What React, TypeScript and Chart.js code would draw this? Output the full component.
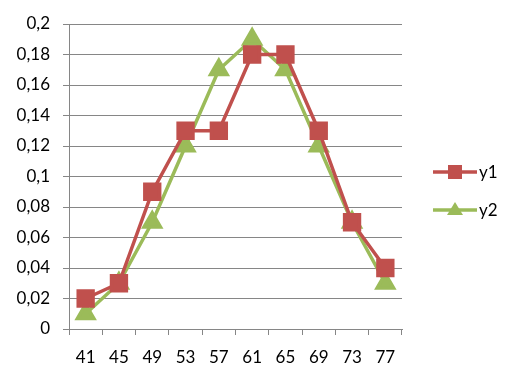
import React, { useEffect, useRef } from "react";
import { Chart, registerables } from "chart.js";

Chart.register(...registerables);

const categories = ["41", "45", "49", "53", "57", "61", "65", "69", "73", "77"];
const y1Values = [0.02, 0.03, 0.09, 0.13, 0.13, 0.18, 0.18, 0.13, 0.07, 0.04];
const y2Values = [0.01, 0.03, 0.07, 0.12, 0.17, 0.19, 0.17, 0.12, 0.07, 0.03];
const seriesNames = ["y1", "y2"];
const seriesColors = ["#C0504D", "#9BBB59"];

const FONT = "Lato, 'Open Sans', sans-serif";

const legendPlugin = {
  id: "customLegend",
  afterDraw(chart: any) {
    const ctx = chart.ctx;
    const items = chart.data.datasets;
    ctx.save();
    items.forEach((ds: any, i: number) => {
      const cy = 172 + i * 38;
      const x0 = 433;
      const x1 = 477;
      ctx.strokeStyle = ds.borderColor;
      ctx.lineWidth = 3.5;
      ctx.beginPath();
      ctx.moveTo(x0, cy);
      ctx.lineTo(x1, cy);
      ctx.stroke();
      ctx.fillStyle = ds.pointBackgroundColor;
      const cx = (x0 + x1) / 2;
      if (ds.pointStyle === "rect") {
        ctx.fillRect(cx - 7, cy - 7, 14, 14);
      } else {
        ctx.beginPath();
        ctx.moveTo(cx, cy - 8);
        ctx.lineTo(cx + 8, cy + 5);
        ctx.lineTo(cx - 8, cy + 5);
        ctx.closePath();
        ctx.fill();
      }
      ctx.fillStyle = "#000";
      ctx.font = `17px ${FONT}`;
      ctx.textBaseline = "middle";
      ctx.textAlign = "left";
      ctx.fillText(ds.label, x1 + 2, cy + 1);
    });
    ctx.restore();
  },
};

export default function App() {
  const canvasRef = useRef<HTMLCanvasElement | null>(null);

  useEffect(() => {
    if (!canvasRef.current) return;
    const chart = new Chart(canvasRef.current, {
      type: "line",
      data: {
        labels: categories,
        datasets: [
          {
            label: seriesNames[0],
            data: y1Values,
            borderColor: seriesColors[0],
            backgroundColor: seriesColors[0],
            pointBackgroundColor: seriesColors[0],
            pointBorderColor: seriesColors[0],
            pointStyle: "rect",
            pointRadius: 10.5,
            borderWidth: 3.5,
            tension: 0,
          },
          {
            label: seriesNames[1],
            data: y2Values,
            borderColor: seriesColors[1],
            backgroundColor: seriesColors[1],
            pointBackgroundColor: seriesColors[1],
            pointBorderColor: seriesColors[1],
            pointStyle: "triangle",
            pointRadius: 9.5,
            borderWidth: 3.5,
            tension: 0,
          },
        ],
      },
      options: {
        animation: false,
        responsive: false,
        devicePixelRatio: 1,
        layout: { padding: { left: 0, top: 24, right: 119, bottom: 0 } },
        plugins: {
          legend: { display: false },
          tooltip: { enabled: false },
        },
        scales: {
          x: {
            type: "category",
            offset: true,
            grid: {
              display: true,
              offset: true,
              drawOnChartArea: false,
              drawTicks: true,
              tickLength: 6,
              color: "#868686",
              lineWidth: 1,
            },
            border: { display: true, color: "#868686", width: 1 },
            ticks: {
              color: "#000",
              font: { family: FONT, size: 17 },
              padding: 12,
              maxRotation: 0,
              autoSkip: false,
            },
            afterFit(scale: any) {
              scale.height = 53;
            },
          },
          y: {
            min: 0,
            max: 0.2,
            grid: {
              color: "#868686",
              lineWidth: 1,
              drawTicks: true,
              tickLength: 6,
            },
            border: { display: true, color: "#868686", width: 1 },
            ticks: {
              stepSize: 0.02,
              color: "#000",
              font: { family: FONT, size: 17 },
              padding: 13,
              callback: (v: any) => {
                const n = Math.round(Number(v) * 100) / 100;
                return String(n).replace(".", ",");
              },
            },
            afterFit(scale: any) {
              scale.width = 69;
            },
          },
        },
      },
      plugins: [legendPlugin],
    });
    return () => chart.destroy();
  }, []);

  return (
    <div style={{ position: "fixed", left: 0, top: 0, width: 521, height: 382, background: "#fff" }}>
      <canvas ref={canvasRef} width={521} height={382} style={{ display: "block" }} />
    </div>
  );
}
